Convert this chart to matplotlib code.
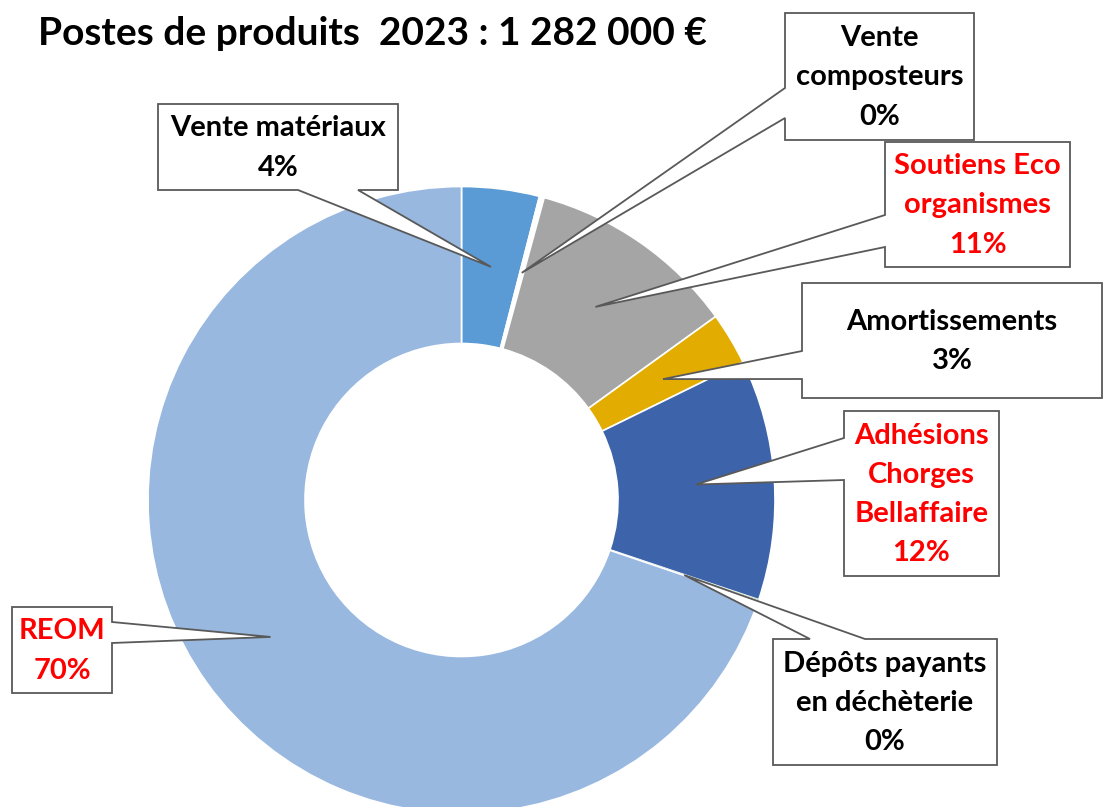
import matplotlib
matplotlib.use("Agg")
import matplotlib.pyplot as plt
from matplotlib.patches import Polygon
import numpy as np

# Revenue breakdown 2023 (share of total, %)
categories = ["Vente matériaux", "Vente composteurs", "Soutiens Eco organismes",
              "Amortissements", "Adhésions Chorges Bellaffaire",
              "Dépôts payants en déchèterie", "REOM"]
label_lines = ["Vente matériaux", "Vente\ncomposteurs", "Soutiens Eco\norganismes",
               "Amortissements", "Adhésions\nChorges\nBellaffaire",
               "Dépôts payants\nen déchèterie", "REOM"]
shares = [4.0, 0.25, 10.8, 2.7, 12.4, 0.05, 69.8]
colors = ["#5B9BD5", "#FFFFFF", "#A5A5A5", "#E2AC00", "#3D64AA", "#70AD47", "#98B8DF"]
text_colors = ["black", "black", "red", "black", "red", "black", "red"]
title = "Postes de produits  2023 : 1 282 000 €"

W, H = 1104, 807
plt.rcParams['font.family'] = ['Lato', 'DejaVu Sans']


def Y(py):
    return H - py


cx, cy = 461.5, Y(500)
R, ring = 313.5, 157

# callout boxes: (x0, y0, x1, y1) in pixels from the top, side of the pointer, pointer base
boxes = [
    ((158, 104, 398, 190), "bottom", 298, 358),
    ((785, 13, 974, 140), "left", 88, 118),
    ((885, 142, 1070, 267), "left", 215, 247),
    ((802, 283, 1102, 398), "left", 351, 379),
    ((844, 411, 999, 576), "left", 438, 480),
    ((773, 639, 997, 765), "top", 810, 865),
    ((12, 607, 112, 693), "right", 622, 643),
]

fig = plt.figure(figsize=(W / 100, H / 100), dpi=100)
ax = fig.add_axes([0, 0, 1, 1])

wedges, _ = ax.pie(shares, colors=colors, startangle=90, counterclock=False,
                   radius=R, center=(cx, cy),
                   wedgeprops=dict(width=ring, edgecolor="white", linewidth=1.2))
wedges[5].set_edgecolor("none")

total = sum(shares)
cum = np.cumsum([0] + shares[:-1])
r_mid = R - ring / 2

for i, (box, side, a, b) in enumerate(boxes):
    theta = np.radians(360 * (cum[i] + shares[i] / 2) / total)
    tip = (cx + r_mid * np.sin(theta), cy + r_mid * np.cos(theta))
    x0, y0, x1, y1 = box
    tl, tr, br, bl = (x0, Y(y0)), (x1, Y(y0)), (x1, Y(y1)), (x0, Y(y1))
    if side == "left":
        verts = [tl, tr, br, bl, (x0, Y(b)), tip, (x0, Y(a))]
    elif side == "right":
        verts = [tl, tr, (x1, Y(a)), tip, (x1, Y(b)), br, bl]
    elif side == "top":
        verts = [tl, (a, Y(y0)), tip, (b, Y(y0)), tr, br, bl]
    else:
        verts = [tl, tr, br, (b, Y(y1)), tip, (a, Y(y1)), bl]
    ax.add_patch(Polygon(verts, closed=True, facecolor="white",
                         edgecolor="#595959", linewidth=1.3, zorder=5))
    pct = round(shares[i] / total * 100)
    ax.text((x0 + x1) / 2, Y((y0 + y1) / 2 + 1), f"{label_lines[i]}\n{pct}%",
            ha="center", va="center", fontsize=21, fontweight="bold",
            color=text_colors[i], linespacing=1.62, zorder=6)

ax.text(38, Y(45), title, fontsize=28, fontweight="bold", ha="left",
        va="baseline", color="black")

ax.set_xlim(0, W)
ax.set_ylim(0, H)
ax.axis("off")
fig.savefig("out.png", dpi=100)
